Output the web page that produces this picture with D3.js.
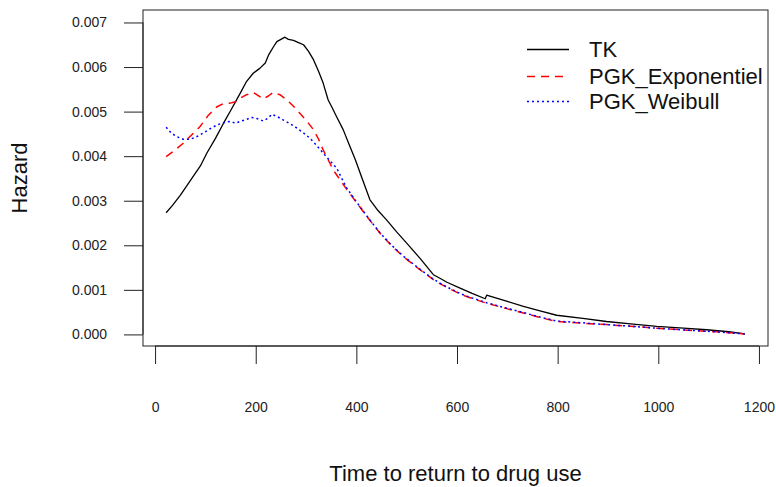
<!DOCTYPE html>
<html>
<head>
<meta charset="utf-8">
<script src="https://cdn.jsdelivr.net/npm/d3@7"></script>
<style>
  body { margin: 0; background: #fff; }
  svg { display: block; font-family: "Liberation Sans", Arial, sans-serif; }
</style>
</head>
<body>
<svg id="chart" width="776" height="487"></svg>
<script>
// Hazard curves: [time, hazard]
const tk = [
  [22, 0.00273], [35, 0.00290], [50, 0.00312], [70, 0.00345], [90, 0.00378],
  [103, 0.00407], [120, 0.00440], [136, 0.00474], [150, 0.00502], [169, 0.00541],
  [182, 0.00568], [195, 0.00586], [208, 0.00597], [219, 0.00609], [226, 0.00628],
  [235, 0.00645], [242, 0.00657], [250, 0.00662], [258, 0.00667], [265, 0.00662],
  [275, 0.00660], [285, 0.00655], [295, 0.00650], [305, 0.00635], [315, 0.00616],
  [325, 0.00590], [334, 0.00564], [344, 0.00526], [351, 0.00511], [360, 0.00490],
  [374, 0.00459], [386, 0.00425], [398, 0.00392], [412, 0.00348], [427, 0.00302],
  [443, 0.00278], [460, 0.00257], [480, 0.00230], [500, 0.00205], [527, 0.00170],
  [553, 0.00134], [566, 0.00126], [580, 0.00117], [606, 0.00104], [630, 0.00092],
  [656, 0.00080], [659, 0.00088], [662, 0.00087], [700, 0.00074], [732, 0.00063],
  [765, 0.00053], [798, 0.00043], [850, 0.00036], [897, 0.00029], [950, 0.00023],
  [997, 0.00018], [1050, 0.00014], [1096, 0.000105], [1140, 0.00006], [1172, 0.00001]
];

const pgkExp = [
  [22, 0.00399], [40, 0.00414], [56, 0.00429], [72, 0.00447], [89, 0.00466],
  [106, 0.00492], [123, 0.00511], [136, 0.00518], [149, 0.00519], [160, 0.00522],
  [169, 0.00530], [182, 0.00538], [195, 0.00543], [205, 0.00536], [215, 0.00528],
  [225, 0.00535], [235, 0.00543], [248, 0.00538], [262, 0.00526], [275, 0.00512],
  [288, 0.00496], [302, 0.00478], [315, 0.00459], [325, 0.00438], [334, 0.00414],
  [344, 0.00392], [354, 0.00369], [378, 0.00330], [401, 0.00295], [424, 0.00260],
  [447, 0.00227], [470, 0.00199], [493, 0.00175], [523, 0.00148], [553, 0.00123],
  [566, 0.00114], [586, 0.00102], [606, 0.00091], [619, 0.00085], [640, 0.00077],
  [659, 0.00070], [695, 0.00059], [732, 0.00048], [765, 0.00038], [798, 0.00029],
  [850, 0.00025], [897, 0.00022], [950, 0.00018], [997, 0.00014], [1050, 0.00010],
  [1096, 0.00007], [1140, 0.00004], [1172, 0.00001]
];

const pgkWeibull = [
  [22, 0.00465], [32, 0.00452], [43, 0.00444], [56, 0.00438], [70, 0.00438],
  [83, 0.00444], [96, 0.00452], [110, 0.00462], [123, 0.00470], [136, 0.00475],
  [149, 0.00478], [160, 0.00474], [169, 0.00478], [180, 0.00482], [192, 0.00487],
  [204, 0.00484], [215, 0.00479], [224, 0.00485], [232, 0.00494], [244, 0.00488],
  [255, 0.00481], [268, 0.00473], [282, 0.00463], [295, 0.00452], [308, 0.00440],
  [321, 0.00424], [334, 0.00407], [347, 0.00390], [361, 0.00373], [380, 0.00330],
  [401, 0.00296], [424, 0.00261], [447, 0.00228], [470, 0.00200], [493, 0.00176],
  [523, 0.00149], [553, 0.00124], [566, 0.00115], [586, 0.00103], [606, 0.00092],
  [619, 0.00086], [640, 0.00078], [659, 0.00071], [695, 0.00060], [732, 0.00049],
  [765, 0.00039], [798, 0.00030], [850, 0.00026], [897, 0.00022], [950, 0.00018],
  [997, 0.00014], [1050, 0.00010], [1096, 0.00007], [1140, 0.00004], [1172, 0.00001]
];

const xTicks = [0, 200, 400, 600, 800, 1000, 1200];
const yTicks = [0, 0.001, 0.002, 0.003, 0.004, 0.005, 0.006, 0.007];
const seriesNames = ['TK', 'PGK_Exponentiel', 'PGK_Weibull'];

const svg = d3.select('#chart');
const box = { left: 143, right: 768, top: 10, bottom: 346 };

const x = d3.scaleLinear().domain([-24, 1218]).range([box.left, box.right]);
const y = d3.scaleLinear().domain([-0.00026, 0.00728]).range([box.bottom, box.top]);

const styles = [
  { color: '#000', dash: null, width: 1.3 },
  { color: '#ff0000', dash: '8,6', width: 1.5 },
  { color: '#0000ff', dash: '2,3', width: 1.5 }
];

// plot frame
svg.append('rect')
  .attr('x', box.left).attr('y', box.top)
  .attr('width', box.right - box.left).attr('height', box.bottom - box.top)
  .attr('fill', 'none').attr('stroke', '#222').attr('stroke-width', 1);

// y axis (R style, long outward ticks)
const yAxis = svg.append('g')
  .attr('transform', `translate(${box.left},0)`)
  .call(d3.axisLeft(y).tickValues(yTicks).tickFormat(d3.format('.3f'))
    .tickSize(19).tickPadding(17));
yAxis.select('.domain')
  .attr('d', `M0,${y(0)}V${y(0.007)}`).attr('stroke', '#222');
yAxis.selectAll('.tick line').attr('stroke', '#222');
yAxis.selectAll('.tick text')
  .attr('font-size', 14).attr('font-family', 'inherit').attr('fill', '#222');

// x axis, labels sit well below
const xAxis = svg.append('g')
  .attr('transform', `translate(0,${box.bottom})`)
  .call(d3.axisBottom(x).tickValues(xTicks).tickFormat(d3.format('d'))
    .tickSize(18).tickPadding(38));
xAxis.select('.domain')
  .attr('d', `M${x(0)},0H${x(1200)}`).attr('stroke', '#222');
xAxis.selectAll('.tick line').attr('stroke', '#222');
xAxis.selectAll('.tick text')
  .attr('font-size', 14).attr('font-family', 'inherit').attr('fill', '#222');

// titles
svg.append('text')
  .attr('x', (box.left + box.right) / 2)
  .attr('y', 481)
  .attr('text-anchor', 'middle')
  .attr('font-size', 22)
  .attr('fill', '#111')
  .text('Time to return to drug use');

svg.append('text')
  .attr('transform', 'translate(27,178) rotate(-90)')
  .attr('text-anchor', 'middle')
  .attr('font-size', 22)
  .attr('fill', '#111')
  .text('Hazard');

// curves
const line = d3.line()
  .x((d) => x(d[0]))
  .y((d) => y(d[1]));

[tk, pgkExp, pgkWeibull].forEach((data, i) => {
  svg.append('path')
    .attr('d', line(data))
    .attr('fill', 'none')
    .attr('stroke', styles[i].color)
    .attr('stroke-width', styles[i].width)
    .attr('stroke-dasharray', styles[i].dash)
    .attr('stroke-linejoin', 'round');
});

// legend (no box)
const legendY = [49.5, 76.5, 101.5];
seriesNames.forEach((name, i) => {
  svg.append('line')
    .attr('x1', 527).attr('x2', 569)
    .attr('y1', legendY[i]).attr('y2', legendY[i])
    .attr('stroke', styles[i].color)
    .attr('stroke-width', styles[i].width)
    .attr('stroke-dasharray', styles[i].dash);
  svg.append('text')
    .attr('x', 589)
    .attr('y', legendY[i] + 7.5)
    .attr('font-size', 22)
    .attr('fill', '#111')
    .text(name);
});
</script>
</body>
</html>
